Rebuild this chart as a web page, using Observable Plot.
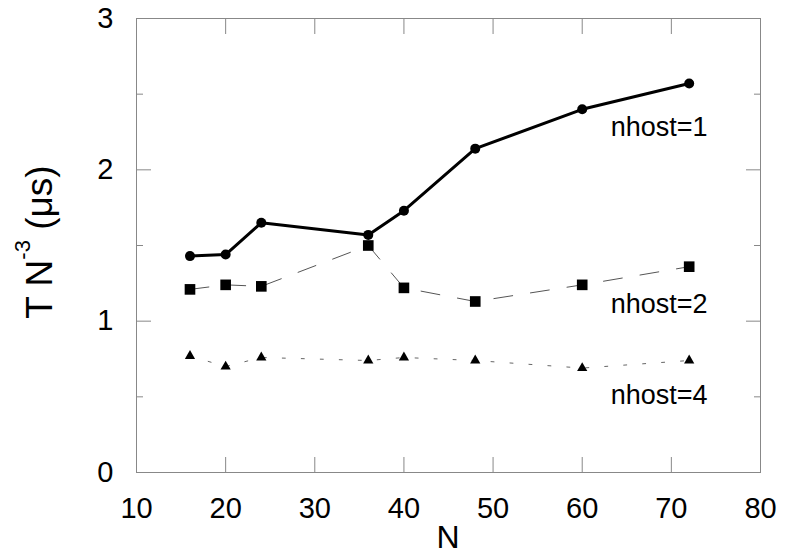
<!DOCTYPE html>
<html><head><meta charset="utf-8">
<script src="https://cdn.jsdelivr.net/npm/d3@7"></script>
<script src="https://cdn.jsdelivr.net/npm/@observablehq/plot@0.6"></script>
<style>body{margin:0;background:#fff} svg{display:block}</style>
</head><body><div id="chart"></div>
<script>
const N = [16, 20, 24, 36, 40, 48, 60, 72];
const nhost1 = [1.43, 1.44, 1.65, 1.57, 1.73, 2.14, 2.40, 2.57];
const nhost2 = [1.21, 1.24, 1.23, 1.50, 1.22, 1.13, 1.24, 1.36];
const nhost4 = [0.77, 0.70, 0.76, 0.74, 0.76, 0.74, 0.69, 0.74];
const seriesNames = ["nhost=1", "nhost=2", "nhost=4"];
const labelN = [63.2, 63.2, 63.2];
const labelT = [2.28, 1.11, 0.51];
const xTicks = [10, 20, 30, 40, 50, 60, 70, 80];
const yTicks = [0, 1, 2, 3];
const yMinorTicks = [0.5, 1.5, 2.5];

const FONT = "'Liberation Sans', Arial, Helvetica, sans-serif";
const d1 = N.map((n, i) => ({N: n, T: nhost1[i]}));
const d2 = N.map((n, i) => ({N: n, T: nhost2[i]}));
const d4 = N.map((n, i) => ({N: n, T: nhost4[i]}));
const labels = seriesNames.map((s, i) => ({name: s, N: labelN[i], T: labelT[i]}));
const blank = () => "";
const intFmt = d3.format("d");
const gray = "#888";

const chart = Plot.plot({
  width: 791,
  height: 555,
  marginLeft: 136,
  marginRight: 31,
  marginTop: 18,
  marginBottom: 83,
  style: {fontFamily: FONT, background: "#fff", color: "#000"},
  x: {domain: [10, 80]},
  y: {domain: [0, 3]},
  marks: [
    Plot.frame({stroke: gray}),
    Plot.axisX(xTicks, {anchor: "bottom", tickSize: -15, tickPadding: 40, fontSize: 29, tickFormat: intFmt, stroke: gray, fill: "#000", label: null}),
    Plot.axisX(xTicks, {anchor: "top", tickSize: -15, tickFormat: blank, stroke: gray, label: null}),
    Plot.axisY(yTicks, {anchor: "left", tickSize: -15, tickPadding: 38, fontSize: 29, tickFormat: intFmt, stroke: gray, fill: "#000", label: null}),
    Plot.axisY(yTicks, {anchor: "right", tickSize: -15, tickFormat: blank, stroke: gray, label: null}),
    Plot.axisY(yMinorTicks, {anchor: "left", tickSize: -7, tickFormat: blank, stroke: gray, label: null}),
    Plot.axisY(yMinorTicks, {anchor: "right", tickSize: -7, tickFormat: blank, stroke: gray, label: null}),
    Plot.line(d2, {x: "N", y: "T", stroke: "#555", strokeWidth: 1, strokeDasharray: "19,18"}),
    Plot.line(d4, {x: "N", y: "T", stroke: "#666", strokeWidth: 1, strokeDasharray: "3,16"}),
    Plot.line(d1, {x: "N", y: "T", stroke: "#000", strokeWidth: 3}),
    Plot.dot(d1, {x: "N", y: "T", r: 5, fill: "#000", stroke: null}),
    Plot.dot(d2, {x: "N", y: "T", r: 6, symbol: "square", fill: "#000", stroke: null}),
    Plot.dot(d4, {x: "N", y: "T", r: 3.8, symbol: "triangle", fill: "#000", stroke: null}),
    Plot.text(labels, {x: "N", y: "T", text: "name", textAnchor: "start", fontSize: 27, fill: "#000"})
  ]
});

const svg = d3.select(chart);
svg.append("text")
  .attr("x", 448).attr("y", 548)
  .attr("text-anchor", "middle")
  .attr("font-size", 32).attr("font-family", FONT).attr("fill", "#000")
  .text("N");
const yt = svg.append("text")
  .attr("transform", "translate(52,242) rotate(-90)")
  .attr("text-anchor", "middle")
  .attr("font-size", 37).attr("font-family", FONT).attr("fill", "#000");
yt.append("tspan").text("T N");
yt.append("tspan").attr("font-size", 22).attr("dy", -22).text("-3");
yt.append("tspan").attr("dy", 22).text(" (\u03bcs)");

document.getElementById("chart").appendChild(chart);
</script>
</body></html>
